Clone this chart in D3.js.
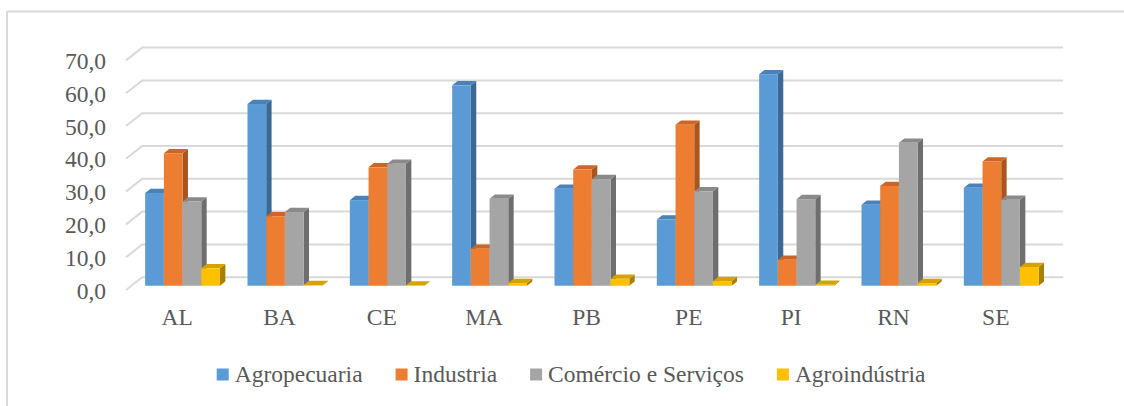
<!DOCTYPE html>
<html>
<head>
<meta charset="utf-8">
<script src="https://cdn.jsdelivr.net/npm/d3@7/dist/d3.min.js"></script>
<style>
  html, body { margin: 0; padding: 0; background: #ffffff; }
  svg { display: block; }
  text { font-family: "Liberation Serif", "Times New Roman", serif; fill: #595959; }
</style>
</head>
<body>
<svg id="chart" width="1124" height="406"></svg>
<script>
// Regional shares by sector (%)
const categories = ["AL", "BA", "CE", "MA", "PB", "PE", "PI", "RN", "SE"];
const agropecuaria  = [28.3, 55.4, 26.1, 61.1, 29.6, 20.2, 64.5, 24.7, 29.9];
const industria     = [40.4, 21.2, 36.1, 11.3, 35.4, 49.1, 7.9, 30.4, 37.9];
const comercio      = [25.7, 22.5, 37.2, 26.5, 32.5, 28.8, 26.4, 43.6, 26.2];
const agroindustria = [5.3, 0.2, 0.1, 0.8, 2.1, 1.4, 0.3, 0.8, 5.7];
const seriesNames = ["Agropecuaria", "Industria", "Comércio e Serviços", "Agroindústria"];
const yTicks = [0, 10, 20, 30, 40, 50, 60, 70];

const seriesValues = [agropecuaria, industria, comercio, agroindustria];
const palette = [
  { front: "#5B9BD5", top: "#4A82B8", side: "#3D6893" },
  { front: "#ED7D31", top: "#CB6626", side: "#A9551E" },
  { front: "#A5A5A5", top: "#8A8A8A", side: "#6E6E6E" },
  { front: "#FFC000", top: "#D6A200", side: "#A88000" }
];

const svg = d3.select("#chart");

// outer frame (only top and left edges fall inside the canvas)
svg.append("line").attr("x1", 7).attr("y1", 11.5).attr("x2", 1124).attr("y2", 11.5)
  .attr("stroke", "#d9d9d9").attr("stroke-width", 2);
svg.append("line").attr("x1", 7).attr("y1", 11).attr("x2", 7).attr("y2", 406)
  .attr("stroke", "#d9d9d9").attr("stroke-width", 2);

// oblique 3D frame: front plane of the floor and a full depth vector
const frontLeft = 126, frontRight = 1047;
const depth = { dx: 16.2, dy: -12.8 };

const yFront = d3.scaleLinear().domain([0, 70]).range([290, 60.4]);
const x = d3.scaleBand().domain(categories).range([frontLeft, frontRight])
  .paddingInner(0.269).paddingOuter(0.1345);
const xs = d3.scaleBand().domain(seriesNames).range([0, x.bandwidth()]).padding(0);

// gridlines: left wall diagonal + back wall horizontal
const grid = svg.append("g").attr("fill", "none").attr("stroke", "#d9d9d9").attr("stroke-width", 2);
yTicks.forEach(v => {
  const yf = yFront(v);
  grid.append("path").attr("d",
    `M${frontLeft},${yf} L${frontLeft + depth.dx},${yf + depth.dy} L${frontRight + depth.dx},${yf + depth.dy}`);
});

// bars sit in the middle third of the depth
const f0 = 1 / 3, f1 = 2 / 3;
const bx = depth.dx * f0, by = depth.dy * f0;
const bdx = depth.dx * (f1 - f0), bdy = depth.dy * (f1 - f0);

const bars = svg.append("g");
categories.forEach((c, i) => {
  seriesNames.forEach((s, k) => {
    const v = seriesValues[k][i];
    const col = palette[k];
    const x0 = x(c) + xs(s) + bx;
    const x1 = x0 + xs.bandwidth();
    const yb = yFront(0) + by;
    const yt = yFront(v) + by;
    const g = bars.append("g");
    // right side
    g.append("path").attr("fill", col.side)
      .attr("d", `M${x1},${yb} L${x1 + bdx},${yb + bdy} L${x1 + bdx},${yt + bdy} L${x1},${yt} Z`);
    // top cap
    g.append("path").attr("fill", col.top)
      .attr("d", `M${x0},${yt} L${x1},${yt} L${x1 + bdx},${yt + bdy} L${x0 + bdx},${yt + bdy} Z`);
    // front face
    g.append("rect").attr("fill", col.front)
      .attr("x", x0).attr("y", yt).attr("width", x1 - x0).attr("height", yb - yt);
  });
});

// value axis labels along the front plane
const fmt = d3.formatLocale({ decimal: ",", thousands: ".", grouping: [3], currency: ["R$", ""] }).format(".1f");
const yAxis = d3.axisLeft(yFront).tickValues(yTicks).tickFormat(fmt).tickSize(0).tickPadding(0);
const yg = svg.append("g").attr("transform", "translate(106,0)").call(yAxis);
yg.select(".domain").remove();
yg.selectAll("text").attr("font-size", 23.5).attr("fill", "#595959")
  .attr("font-family", "Liberation Serif, Times New Roman, serif").attr("dy", "0.34em");

// category labels
const xAxis = d3.axisBottom(x).tickSize(0).tickPadding(0);
const xg = svg.append("g").attr("transform", "translate(0,308)").call(xAxis);
xg.select(".domain").remove();
xg.selectAll("text").attr("font-size", 23.5).attr("fill", "#595959")
  .attr("font-family", "Liberation Serif, Times New Roman, serif").attr("dy", "0.72em");

// legend
const legend = svg.append("g").attr("transform", "translate(0,381.5)");
let lx = 216.7;
seriesNames.forEach((s, k) => {
  legend.append("rect").attr("x", lx).attr("y", -13).attr("width", 12).attr("height", 12)
    .attr("fill", palette[k].front);
  const t = legend.append("text").attr("x", lx + 18).attr("y", 0)
    .attr("font-size", 23.5).text(s);
  lx += 18 + t.node().getComputedTextLength() + 33;
});
</script>
</body>
</html>
